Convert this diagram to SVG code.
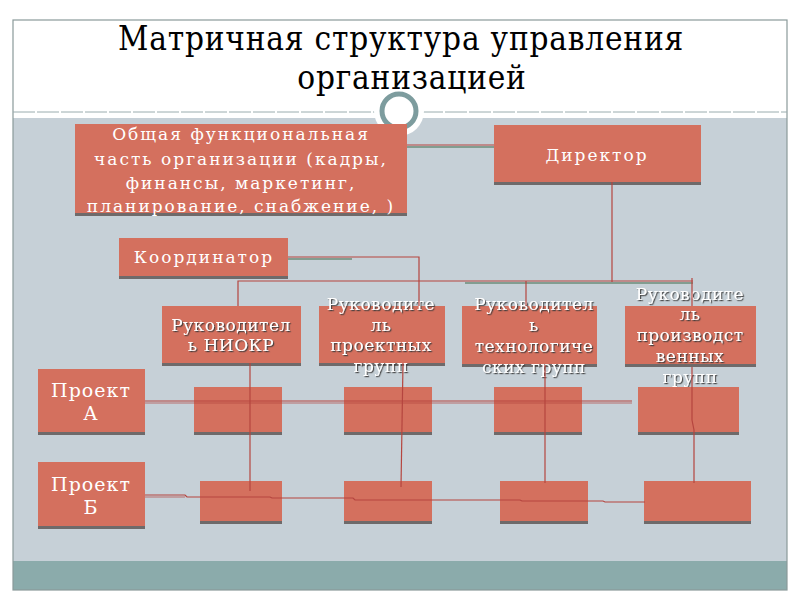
<svg xmlns="http://www.w3.org/2000/svg" width="800" height="600" viewBox="0 0 800 600">
<defs>
<style>
.box{fill:#D4705E}
.sh{fill:#6E6A6A}
.t{font-family:"DejaVu Serif","Liberation Serif",serif;font-size:17px;fill:#FFFFFF;text-anchor:middle;letter-spacing:2px}
.ts{filter:url(#tsh);letter-spacing:0.5px}
.big{font-size:19px;letter-spacing:1px}
.ttl{font-family:"DejaVu Serif Condensed","DejaVu Serif","Liberation Serif",serif;font-stretch:condensed;font-size:33px;letter-spacing:0.8px;fill:#000;text-anchor:middle}
.ln{fill:none;stroke:#B5453F;stroke-width:1.2}
.lg{fill:none;stroke:#3E6B4A;stroke-width:1}
</style>
<filter id="tsh" x="-10%" y="-30%" width="120%" height="160%">
<feDropShadow dx="1.2" dy="1.2" stdDeviation="0.6" flood-color="#3A3A3A" flood-opacity="0.9"/>
</filter>
</defs>
<rect x="0" y="0" width="800" height="600" fill="#FFFFFF"/>
<g id="frame">
<rect x="13" y="118" width="774" height="443" fill="#C6D0D7"/>
<rect x="13" y="561" width="774" height="29" fill="#8BABAB"/>
<rect x="13" y="20" width="774" height="570" fill="none" stroke="#8A9A9A" stroke-width="1.2"/>
<line x1="13" y1="112" x2="787" y2="112" stroke="#9AACAE" stroke-width="1" stroke-dasharray="22,2"/>
<circle cx="399" cy="111" r="25" fill="#FFFFFF"/>
<circle cx="399" cy="111" r="17" fill="none" stroke="#7D9C9E" stroke-width="5"/>
</g>
<g id="title">
<text class="ttl" x="401" y="50">Матричная структура управления</text>
<text class="ttl" x="412" y="89">организацией</text>
</g>
<g id="n-general">
<rect class="sh" x="75" y="127" width="332" height="89"/>
<rect class="box" x="75" y="124" width="332" height="89"/>
<text class="t" x="241" y="140">Общая функциональная</text>
<text class="t" x="241" y="165">часть организации (кадры,</text>
<text class="t" x="241" y="189">финансы, маркетинг,</text>
<text class="t" x="241" y="212">планирование, снабжение, )</text>
</g>
<g id="n-director">
<rect class="sh" x="494" y="128" width="207" height="57"/>
<rect class="box" x="494" y="125" width="207" height="57"/>
<text class="t" x="597" y="161">Директор</text>
</g>
<g id="n-coord">
<rect class="sh" x="119" y="241" width="169" height="38"/>
<rect class="box" x="119" y="238" width="169" height="38"/>
<text class="t" x="204" y="263">Координатор</text>
</g>
<g id="n-m1">
<rect class="sh" x="162" y="309" width="139" height="57"/>
<rect class="box" x="162" y="306" width="139" height="57"/>
<text class="t ts" x="231" y="331">Руководител</text>
<text class="t ts" x="231" y="351">ь НИОКР</text>
</g>
<g id="n-m2">
<rect class="sh" x="319" y="309" width="126" height="57"/>
<rect class="box" x="319" y="306" width="126" height="57"/>
<text class="t ts" x="381" y="310">Руководите</text>
<text class="t ts" x="381" y="331">ль</text>
<text class="t ts" x="381" y="351">проектных</text>
<text class="t ts" x="381" y="372">групп</text>
</g>
<g id="n-m3">
<rect class="sh" x="462" y="309" width="135" height="58"/>
<rect class="box" x="462" y="306" width="135" height="58"/>
<text class="t ts" x="534" y="310">Руководител</text>
<text class="t ts" x="534" y="331">ь</text>
<text class="t ts" x="534" y="352">технологиче</text>
<text class="t ts" x="534" y="373">ских групп</text>
</g>
<g id="n-m4">
<rect class="sh" x="625" y="309" width="131" height="58"/>
<rect class="box" x="625" y="306" width="131" height="58"/>
<text class="t ts" x="690" y="300">Руководите</text>
<text class="t ts" x="690" y="320">ль</text>
<text class="t ts" x="690" y="341">производст</text>
<text class="t ts" x="690" y="362">венных</text>
<text class="t ts" x="690" y="383">групп</text>
</g>
<g id="n-projA">
<rect class="sh" x="38" y="372" width="107" height="63"/>
<rect class="box" x="38" y="369" width="107" height="63"/>
<text class="t big" x="91" y="397">Проект</text>
<text class="t big" x="91" y="420">А</text>
</g>
<g id="n-projB">
<rect class="sh" x="38" y="465" width="107" height="64"/>
<rect class="box" x="38" y="462" width="107" height="64"/>
<text class="t big" x="91" y="491">Проект</text>
<text class="t big" x="91" y="514">Б</text>
</g>
<g id="n-a1"><rect class="sh" x="194" y="390" width="88" height="45"/><rect class="box" x="194" y="387" width="88" height="45"/></g>
<g id="n-a2"><rect class="sh" x="344" y="390" width="88" height="45"/><rect class="box" x="344" y="387" width="88" height="45"/></g>
<g id="n-a3"><rect class="sh" x="494" y="390" width="88" height="45"/><rect class="box" x="494" y="387" width="88" height="45"/></g>
<g id="n-a4"><rect class="sh" x="638" y="390" width="101" height="45"/><rect class="box" x="638" y="387" width="101" height="45"/></g>
<g id="n-b1"><rect class="sh" x="200" y="484" width="82" height="40"/><rect class="box" x="200" y="481" width="82" height="40"/></g>
<g id="n-b2"><rect class="sh" x="344" y="484" width="88" height="40"/><rect class="box" x="344" y="481" width="88" height="40"/></g>
<g id="n-b3"><rect class="sh" x="500" y="484" width="88" height="40"/><rect class="box" x="500" y="481" width="88" height="40"/></g>
<g id="n-b4"><rect class="sh" x="644" y="484" width="107" height="40"/><rect class="box" x="644" y="481" width="107" height="40"/></g>
<g id="connectors">
<polyline class="ln" points="407,145 494,145"/>
<polyline class="lg" points="407,147 494,147"/>
<polyline class="ln" points="288,257 419,257 419,306"/>
<polyline class="lg" points="288,259 352,259"/>
<polyline class="ln" points="612,182 612,282"/>
<polyline class="ln" points="238,306 238,281 693,281"/>
<polyline class="lg" points="465,283 693,283"/>
<polyline class="ln" points="526,281 526,306"/>
<polyline class="ln" points="692,278 692,306"/>
<polyline class="ln" points="145,401 632,401"/>
<polyline class="ln" points="145,403 632,403" stroke-opacity="0.7"/>
<polyline class="ln" points="145,495 185,495 187,497 270,497 272,498 353,498 355,500 435,500 520,500 522,501 603,501 605,502 645,502"/>
<polyline class="ln" points="145,497 185,497" stroke-opacity="0.7"/>
<polyline class="ln" points="250,363 250,491"/>
<polyline class="ln" points="403,363 401,487"/>
<polyline class="ln" points="545,365 545,483"/>
<polyline class="ln" points="692,367 692,420 694,430 694,483"/>
</g>
</svg>
